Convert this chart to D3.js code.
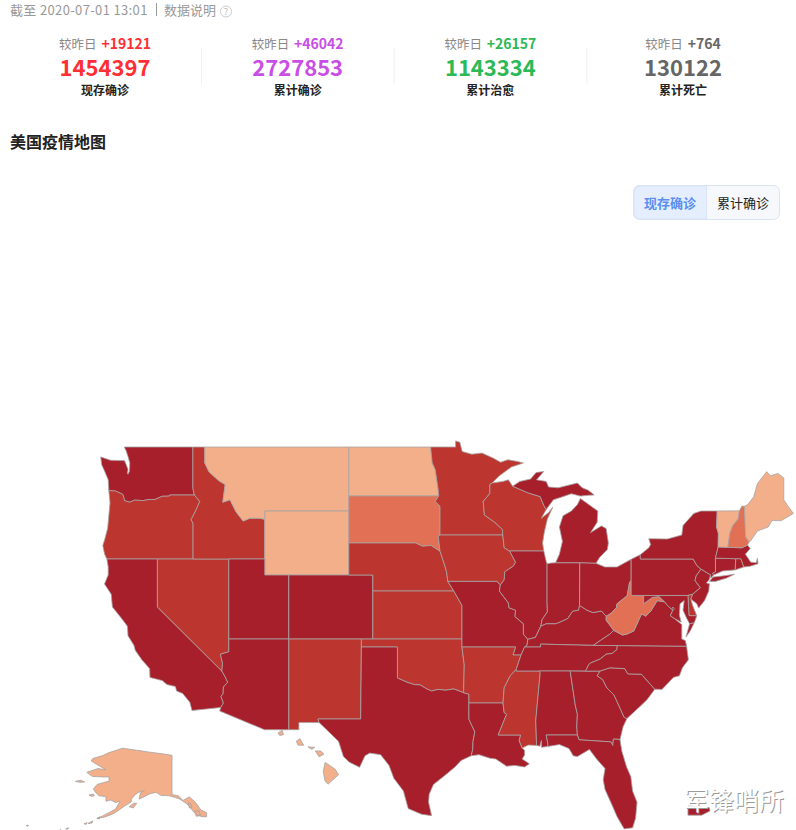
<!DOCTYPE html>
<html>
<head>
<meta charset="utf-8">
<style>
  html, body { margin: 0; padding: 0; background: #fff; }
  svg { display: block; }
  text { font-family: "Noto Sans CJK SC", "Noto Sans", sans-serif; }
</style>
<script src="https://cdn.jsdelivr.net/npm/d3@7"></script>
</head>
<body>
<svg id="chart" width="796" height="830"></svg>
<script>
// header numbers
var statLabels = ['现存确诊', '累计确诊', '累计治愈', '累计死亡'];
var statDeltas = ['+19121', '+46042', '+26157', '+764'];
var statTotals = ['1454397', '2727853', '1143334', '130122'];
var statColors = ['#ff2f33', '#c94ee6', '#2cb956', '#666666'];
var toggleLabels = ['现存确诊', '累计确诊'];

// colour level of each state
var levelColors = ['#f2af89', '#e27054', '#bc352e', '#a81f2c'];
var stateLevels = {
  WA:3, OR:2, CA:3, NV:2, ID:2, MT:0, WY:0, UT:3, AZ:3, CO:3, NM:2, ND:0, SD:1, NE:2, KS:2, OK:2, TX:3,
  MN:2, IA:2, MO:3, AR:2, LA:3, WI:2, IL:3, MS:2, MI:3, IN:3, KY:3, TN:3, AL:3, OH:3, GA:3, FL:3,
  SC:3, NC:3, VA:3, WV:1, PA:3, NY:3, NJ:3, DE:2, MD:3, DC:3, CT:3, RI:3, MA:3, VT:0, NH:1, ME:0,
  AK:0, HI:0, PR:3
};

// shared borders, lon/lat
var columbia = [[-124.05,46.27],[-123.5,46.25],[-123.2,46.15],[-122.9,46.05],[-122.8,45.85],[-122.75,45.65],[-122.3,45.55],[-121.9,45.68],[-121.2,45.65],[-120.7,45.72],[-120.2,45.72],[-119.6,45.92],[-119,45.93],[-118.98,46],[-116.92,46]];
var snake = [[-116.92,46],[-116.47,45.6],[-116.7,45.2],[-116.85,44.95],[-117.2,44.45],[-117.03,44.25],[-117.03,43.8],[-117.03,42]];
var caCoast = [[-124.21,42],[-124.1,41.5],[-124.1,41],[-124.41,40.44],[-123.85,39.8],[-123.75,39],[-123,38.3],[-122.5,37.8],[-122.45,37.2],[-121.95,36.6],[-121.85,36.3],[-121.3,35.7],[-120.65,35.15],[-120.62,34.6],[-119.6,34.4],[-119.2,34.15],[-118.5,34.03],[-118.4,33.75],[-117.9,33.6],[-117.3,33.05],[-117.12,32.53]];
var coloRiver = [[-114.72,32.72],[-114.5,33],[-114.7,33.4],[-114.52,33.6],[-114.5,34],[-114.14,34.3],[-114.4,34.7],[-114.63,35]];
var azNv = [[-114.63,35],[-114.57,35.5],[-114.75,36.05],[-114.05,36.2],[-114.05,37]];
var idMt = [[-116.05,49],[-116.05,48],[-115.7,47.45],[-114.9,46.9],[-114.35,46.65],[-114.55,45.55],[-113.95,45.7],[-113.45,44.95],[-112.85,44.37],[-112.3,44.55],[-111.5,44.55],[-111.05,44.48]];
var redRiver = [[-100,34.56],[-99.2,34.3],[-98.6,34.15],[-98.1,34.13],[-97.6,33.9],[-97.15,33.75],[-96.6,33.85],[-96,33.8],[-95.3,33.88],[-94.48,33.64]];
var sabine = [[-94.04,33],[-94.04,31.99],[-93.8,31.6],[-93.55,31.2],[-93.7,30.6],[-93.72,30.1],[-93.85,29.7]];
var riverNeIa = [[-98.5,43],[-97.9,42.8],[-97.2,42.85],[-96.45,42.49]];
var riverIaNe = [[-96.45,42.49],[-96.1,41.7],[-95.9,41.2],[-95.8,40.6]];
var riverKsMo = [[-95.8,40.6],[-95.3,40],[-94.62,39.1]];
var sdMn = [[-96.56,45.94],[-96.85,45.6],[-96.45,45.3],[-96.45,43.5]];
var ndMn = [[-97.23,49],[-97.1,48],[-96.85,47.6],[-96.6,46.35],[-96.56,45.94]];
var mnWi = [[-92.1,46.75],[-92.29,46.66],[-92.29,46.1],[-92.85,45.6],[-92.75,44.75],[-91.9,44.3],[-91.25,43.85],[-91.22,43.5]];
var missUpper = [[-91.22,43.5],[-91.1,42.7],[-90.65,42.5],[-90.15,41.8],[-90.35,41.55],[-91.05,41.2],[-91.1,40.7],[-91.42,40.38]];
var missIlMo = [[-91.42,40.38],[-91.5,40],[-90.75,39.25],[-90.7,38.95],[-90.15,38.8],[-90.2,38.4],[-89.5,37.95],[-89.5,37.3],[-89.13,36.98]];
var missKyMo = [[-89.13,36.98],[-89.2,36.6],[-89.4,36.5]];
var missTnAr = [[-89.4,36.5],[-89.7,36],[-90.1,35.1]];
var missArMs = [[-90.1,35.1],[-90.6,34.7],[-91.1,33.95],[-91.2,33]];
var missLaMs = [[-91.2,33],[-91.1,32.4],[-90.9,32.3],[-91.6,31],[-89.73,31],[-89.85,30.65],[-89.6,30.18]];
var ohioKy = [[-89.13,36.98],[-88.5,37.1],[-88.05,37.8]];
var ohioIn = [[-88.05,37.8],[-87.6,37.95],[-86.8,37.95],[-86.3,38.1],[-85.8,38.28],[-85.4,38.73],[-84.9,38.8],[-84.82,39.1]];
var ohioOh = [[-84.82,39.1],[-84.2,38.8],[-83.7,38.65],[-83,38.75],[-82.6,38.42]];
var ohioWv = [[-82.6,38.42],[-82.2,38.6],[-81.75,38.95],[-81.7,39.2],[-80.85,39.7],[-80.65,40.55],[-80.52,40.64]];
var wabash = [[-88.05,37.8],[-87.95,38.2],[-87.5,38.7],[-87.53,39.35],[-87.53,41.7]];
var kyVa = [[-81.97,37.54],[-82.3,37.3],[-83.1,36.9],[-83.68,36.6]];
var kyWv = [[-82.6,38.42],[-82.6,38.17],[-81.97,37.54]];
var vaWv = [[-81.97,37.54],[-81.25,37.25],[-80.9,37.3],[-80.3,37.5],[-79.65,38.58],[-79.3,38.42],[-78.87,38.77],[-78.35,39.4],[-77.72,39.32]];
var potomacUp = [[-77.72,39.32],[-78.2,39.65],[-78.75,39.6],[-79.48,39.2],[-79.48,39.72]];
var potomacLow = [[-77.25,38.45],[-77.05,38.8],[-77.5,39.1],[-77.72,39.32]];
var tnNc = [[-81.68,36.59],[-81.7,36.35],[-82.1,36.1],[-82.6,36.05],[-83.1,35.75],[-83.9,35.5],[-84.05,35.4],[-84.32,34.99]];
var savannah = [[-83.11,35],[-83.35,34.7],[-82.9,34.47],[-82.55,33.95],[-81.95,33.5],[-81.4,32.6],[-81.1,32.1],[-80.87,32.03]];
var ncSc = [[-83.11,35],[-82.3,35.2],[-81.05,35.15],[-80.8,34.82],[-79.67,34.8],[-78.55,33.86]];
var gaFl = [[-81.45,30.72],[-82,30.75],[-82.05,30.35],[-82.2,30.57],[-84.86,30.7],[-85,31]];
var alGa = [[-85.6,35],[-85.18,32.87],[-85,32.3],[-85.05,31.55],[-85,31]];
var paNj = [[-74.7,41.36],[-75.1,40.95],[-75.2,40.65],[-74.75,40.2],[-75.4,39.8]];
var nyPa = [[-75.35,42],[-75.05,41.6],[-74.7,41.36]];
var vtNh = [[-71.5,45.01],[-71.6,44.5],[-72.05,44.1],[-72.3,43.6],[-72.46,42.73]];
var nyVt = [[-73.35,45],[-73.4,44],[-73.25,43.6],[-73.27,42.75]];
var nhMe = [[-71.08,45.3],[-70.98,43.4],[-70.7,43.07]];
var wiMiUp = [[-90.4,46.55],[-89.1,46.13],[-88.1,45.9],[-87.8,45.35],[-87.6,45.1]];

function rev(a) { return a.slice().reverse(); }
function ring() { return [].concat.apply([], arguments); }

// one list of rings for each state
var WA = [ring([[-117.04,49],[-122.76,49],[-122.6,48.75],[-122.45,48.4],[-122.3,48],[-122.33,47.5],[-122.45,47.3],[-122.5,47.35],[-122.45,47.6],[-122.6,47.9],[-122.75,48.15],[-123.15,48.15],[-123.9,48.17],[-124.72,48.38],[-124.65,47.9],[-124.35,47.4],[-124.1,46.95]], columbia, [[-117.04,46.42]])];
var OR = [ring(columbia, snake.slice(1), [[-124.21,42],[-124.4,42.3],[-124.55,42.84],[-124.4,43.2],[-124.15,43.9],[-124.05,44.7],[-123.95,45.5]])];
var CA = [ring(caCoast, coloRiver, [[-120,39],[-120,42]])];
var NV = [ring([[-120,42],[-114.05,42]], rev(azNv), [[-120,39]])];
var ID = [ring([[-117.04,49]], idMt, [[-111.05,42],[-117.03,42]], rev(snake), [[-117.04,46.42]])];
var MT = [ring(idMt, [[-111.05,45],[-104.05,45],[-104.05,49]])];
var WY = [[[-111.05,45],[-104.05,45],[-104.05,41],[-111.05,41]]];
var UT = [[[-114.05,42],[-111.05,42],[-111.05,41],[-109.05,41],[-109.05,37],[-114.05,37]]];
var AZ = [ring([[-114.05,37],[-109.05,37],[-109.05,31.33],[-111.07,31.33],[-114.81,32.5]], coloRiver, azNv)];
var CO = [[[-109.05,41],[-102.05,41],[-102.05,37],[-109.05,37]]];
var NM = [[[-109.05,37],[-103,37],[-103.06,32],[-106.62,32],[-106.53,31.78],[-108.21,31.78],[-108.21,31.33],[-109.05,31.33]]];
var ND = [ring([[-104.05,49]], ndMn, [[-104.05,45.94]])];
var SD = [ring([[-104.05,45.94]], sdMn, [[-96.6,43.45],[-96.45,42.49]], rev(riverNeIa), [[-104.05,43]])];
var NE = [ring([[-104.05,43]], riverNeIa, riverIaNe, [[-95.3,40],[-102.05,40],[-102.05,41],[-104.05,41]])];
var KS = [[[-102.05,40],[-95.3,40],[-94.62,39.1],[-94.62,37],[-102.05,37]]];
var OK = [ring([[-103,37],[-94.62,37],[-94.62,36.5],[-94.43,35.4]], rev(redRiver), [[-100,36.5],[-103,36.5]])];
var TX = [ring([[-103,36.5],[-100,36.5]], redRiver, [[-94.04,33.55]], sabine, [[-94.7,29.4],[-95.2,29],[-96,28.5],[-97,27.9],[-97.35,27.3],[-97.4,26.8],[-97.15,25.96],[-98,26.05],[-99.1,26.4],[-99.5,27.5],[-100.3,28.3],[-100.7,29.1],[-101.4,29.77],[-102.3,29.87],[-102.7,29.7],[-103.15,28.98],[-104,29.3],[-104.5,29.65],[-104.9,30.6],[-106,31.4],[-106.53,31.78],[-106.62,32],[-103.06,32]])];
var MN = [ring([[-97.23,49],[-95.15,49],[-95.15,49.38],[-94.8,49.3],[-94.6,48.72],[-93.8,48.55],[-92.95,48.62],[-92,48.3],[-91.4,48.05],[-90.8,48.2],[-90,48.1],[-89.5,48],[-90.5,47.75],[-91.5,47.2]], mnWi, [[-96.45,43.5]], rev(sdMn), rev(ndMn))];
var IA = [ring([[-96.45,43.5]], missUpper, [[-91.72,40.6]], rev(riverIaNe), [[-96.6,43.45]])];
var MO = [ring([[-95.8,40.6],[-91.72,40.6]], missIlMo, missKyMo, [[-89.7,36],[-90.37,36],[-90.15,36.5],[-94.62,36.5],[-94.62,39.1]], rev(riverKsMo).slice(1))];
var AR = [ring([[-94.62,36.5],[-90.15,36.5],[-90.37,36],[-89.7,36]], missTnAr.slice(2), missArMs.slice(1), [[-94.04,33],[-94.04,33.55],[-94.48,33.64],[-94.43,35.4]])];
var LA = [ring(sabine, [[-93.2,29.77],[-92.3,29.55],[-91.8,29.5],[-90.9,29.05],[-90.2,29.1],[-89.4,29],[-89,29.2],[-89.6,29.5],[-89.4,29.75],[-89.4,30.05]], rev(missLaMs))];
var WI = [ring([[-92.1,46.75],[-91.2,46.85],[-90.75,46.95]], wiMiUp, [[-88,44.55],[-87.4,44.9],[-87.05,45.25],[-87.5,44.5],[-87.75,43.7],[-87.9,43],[-87.8,42.5],[-90.65,42.5],[-91.1,42.7],[-91.22,43.5]], rev(mnWi).slice(1))];
var IL = [ring([[-90.65,42.5],[-87.8,42.5],[-87.6,41.85]], rev(wabash), rev(ohioKy).slice(1), rev(missIlMo).slice(1), [[-91.1,40.7],[-91.05,41.2],[-90.35,41.55],[-90.15,41.8]])];
var MS = [ring([[-90.1,35],[-88.2,35],[-88.1,34.9],[-88.47,31.9],[-88.4,30.35],[-89.1,30.37]], rev(missLaMs), rev(missArMs).slice(1))];
var MI = [
  [[-86.82,41.76],[-84.8,41.76],[-83.45,41.73],[-83.15,42.1],[-82.5,42.6],[-82.42,43],[-82.6,43.9],[-83,44.07],[-83.9,43.65],[-83.35,44.3],[-83.3,45],[-84.75,45.78],[-85,45.4],[-85.5,45],[-86.2,44.7],[-86.5,44],[-86.25,43.1],[-86.5,42.3]],
  ring(rev(wiMiUp), [[-89.8,46.85],[-88.9,47],[-88.45,47.4],[-87.8,47.47],[-88.4,46.95],[-87.6,46.85],[-87.4,46.5],[-86.6,46.45],[-85,46.75],[-84.6,46.45],[-84.1,46.3],[-83.6,46],[-84.1,45.98],[-84.75,45.93],[-85.5,46.08],[-86.4,45.85],[-87,45.7]])
];
var IN = [ring([[-87.53,41.7],[-87.2,41.75],[-86.82,41.76],[-84.8,41.76]], rev(ohioIn), wabash.slice(1))];
var KY = [ring([[-89.4,36.5],[-88.07,36.5],[-88.07,36.68],[-83.68,36.6]], rev(kyVa), rev(kyWv), rev(ohioOh), rev(ohioIn).slice(1), rev(ohioKy).slice(1), missKyMo.slice(1))];
var TN = [ring([[-90.1,35],[-88.2,35],[-85.6,35],[-84.32,34.99]], rev(tnNc), [[-83.68,36.6],[-88.07,36.68],[-88.07,36.5],[-89.4,36.5]], missTnAr.slice(1))];
var AL = [ring([[-88.2,35]], alGa, [[-87.6,31],[-87.45,30.4],[-87.5,30.28],[-88,30.23],[-88,30.65],[-88.13,30.3],[-88.4,30.35],[-88.47,31.9],[-88.1,34.9]])];
var OH = [ring([[-84.82,39.1],[-84.8,41.76],[-83.45,41.73],[-82.7,41.5],[-81.7,41.5],[-80.52,41.98],[-80.52,40.64]], rev(ohioWv), rev(ohioOh))];
var GA = [ring(alGa.slice(0,1), [[-84.32,34.99]], savannah, [[-81.2,31.5]], gaFl, rev(alGa).slice(1))];
var FL = [ring([[-87.6,31]], rev(gaFl), [[-81.3,30],[-80.9,29],[-80.55,28.4],[-80.4,27.5],[-80.03,26.8],[-80.15,25.8],[-80.4,25.2],[-81.1,25.13],[-81.7,25.9],[-82.1,26.6],[-82.7,27.6],[-82.85,28.2],[-82.7,28.9],[-83.4,29.5],[-84,30.1],[-85,29.65],[-85.35,29.7],[-85.7,30.15],[-86.5,30.4],[-87.5,30.28],[-87.45,30.4]])];
var SC = [ring(ncSc, [[-79.2,33.2],[-79.9,32.7]], rev(savannah))];
var NC = [ring([[-84.32,34.99]], ncSc, [[-77.95,33.85],[-77,34.6],[-76.5,34.7],[-76.25,35.2],[-75.75,35.7],[-75.9,36.55]], tnNc)];
var VA = [
  ring([[-83.68,36.6],[-81.68,36.59],[-75.9,36.55],[-76,36.9],[-76.3,37],[-76.3,37.6],[-76.3,37.9],[-76.95,38.3]], potomacLow, rev(vaWv), kyVa.slice(1)),
  [[-75.95,37.12],[-75.65,37.95],[-75.25,38.03],[-75.6,37.5]]
];
var WV = [ring(kyWv, vaWv, potomacUp, [[-80.52,39.72]], rev(ohioWv))];
var PA = [[[-80.52,41.98],[-79.76,42.27],[-79.76,42],[-75.35,42],[-75.05,41.6],[-74.7,41.36],[-75.1,40.95],[-75.2,40.65],[-74.75,40.2],[-75.4,39.8],[-75.79,39.72],[-80.52,39.72]]];
var NY = [
  ring([[-79.76,42.27],[-79.05,42.7],[-78.9,42.9],[-79.05,43.27],[-77.5,43.25],[-76.3,43.5],[-76.2,44.1],[-75.3,44.85],[-74.7,45]], nyVt, [[-73.5,42.05],[-73.49,41.2],[-73.73,41.1],[-73.65,41],[-73.9,40.8],[-73.9,41]], rev(nyPa), [[-79.76,42]]),
  [[-74,40.6],[-73.5,40.6],[-72.6,40.8],[-71.9,41.05],[-72.6,40.97],[-73.7,40.87]]
];
var NJ = [ring([[-73.9,41]], paNj, [[-75.55,39.5],[-75.05,39.2],[-74.9,38.93],[-74.4,39.4],[-74.05,40],[-74,40.45],[-74.25,40.5],[-74.02,40.7]])];
var DE = [[[-75.79,39.72],[-75.4,39.8],[-75.55,39.5],[-75.4,39.1],[-75.05,38.45],[-75.7,38.46]]];
var MD = [ring([[-79.48,39.72],[-75.79,39.72],[-75.7,38.46],[-75.05,38.45],[-75.25,38.03],[-75.65,37.95],[-75.9,38.3],[-76.2,38.8],[-76.1,39.4],[-76.45,39.2],[-76.5,38.5],[-76.35,38.05],[-76.95,38.3]], potomacLow, potomacUp.slice(1))];
var DC = [[[-77.12,38.93],[-77.04,39],[-76.91,38.89],[-77.04,38.79]]];
var CT = [[[-73.49,42.05],[-71.8,42.02],[-71.85,41.32],[-72.9,41.25],[-73.65,41],[-73.73,41.1],[-73.49,41.2]]];
var RI = [[[-71.8,42.02],[-71.38,42.02],[-71.13,41.5],[-71.85,41.32]]];
var MA = [[[-73.5,42.05],[-73.27,42.75],[-72.46,42.73],[-71.3,42.7],[-70.82,42.87],[-70.6,42.65],[-71,42.3],[-70.55,41.8],[-70.1,41.77],[-70,42.05],[-69.95,41.7],[-70.6,41.55],[-71.13,41.5],[-71.38,42.02],[-71.8,42.02]]];
var VT = [ring(nyVt, rev(vtNh))];
var NH = [ring(vtNh, [[-71.3,42.7],[-70.82,42.87]], rev(nhMe), [[-71.3,45.3]])];
var ME = [ring(nhMe, [[-70.6,43.1],[-70,43.75],[-69.1,44],[-68.8,44.4],[-68,44.4],[-67,44.85],[-67.45,45.3],[-67.8,45.7],[-67.8,47.07],[-68.3,47.35],[-68.9,47.2],[-69.23,47.46],[-70,46.7],[-70.3,45.9],[-70.8,45.4]])];

// the three areas moved to the side of the map
var AK = [
  [[-141,69.65],[-141,60.3],[-139,60],[-137.5,58.9],[-135.5,59.75],[-133.5,58.4],[-131.8,56.6],[-130,56],[-130,55],[-131.5,55],[-133.2,55.5],[-134.5,56.5],[-135.5,57.5],[-136.5,58.2],[-138.5,59.2],[-139.8,59.55],[-142,60],[-144.5,60.1],[-146,60.8],[-148,60.5],[-149.5,59.9],[-151.5,59.2],[-151,60.7],[-149.8,61.2],[-151.7,60.8],[-152.8,60.2],[-153.9,59.2],[-154,58.5],[-156,57.6],[-158,56.5],[-160,55.6],[-162.5,54.9],[-164.8,54.6],[-163,55.2],[-161,56],[-159,56.8],[-157.5,58.7],[-158.9,58.4],[-160.5,59],[-162,58.7],[-162,59.8],[-164.2,60],[-165.3,60.8],[-166,61.6],[-164.8,62.7],[-163,63.1],[-161,63.5],[-161,64.5],[-163,64.5],[-166.3,64.6],[-168.1,65.6],[-164.5,66.5],[-162,66.2],[-163.8,67],[-166.7,68.3],[-166.2,68.9],[-163,69.6],[-161,70.3],[-156.7,71.35],[-152,70.85],[-148,70.4],[-144,70]],
  [[-171.7,63.45],[-170,63.7],[-168.8,63.3],[-170.3,63.2]],
  [[-167.4,60.2],[-166,60.4],[-165.7,60],[-166.6,59.85]],
  [[-154.6,57.4],[-153.2,58.2],[-152.2,58.2],[-153.3,57.1]],
  [[-135.8,58.3],[-134.9,58],[-134.7,57.2],[-135.5,57.1]],
  [[-133.8,56.3],[-132.5,56.5],[-131.9,55.3],[-133.3,55.1]],
  [[-167.7,53.4],[-166.2,54],[-166.4,53.5]],
  [[-169,53.3],[-168,53.6],[-168.2,53.2]],
  [[-164.9,54.6],[-163.9,55],[-164.1,54.5]],
  [[-174.8,52.1],[-174,52.4],[-174,52.05]],
  [[-177,51.7],[-176.3,51.95],[-176.4,51.65]],
  [[-187.4,52.9],[-186.6,53],[-186.8,52.75]]
];
var HI = [
  [[-155.9,20.25],[-155.1,19.85],[-154.8,19.5],[-155.65,18.92],[-155.9,19.1],[-156.05,19.7]],
  [[-156.7,20.95],[-156.25,20.95],[-156,20.75],[-156.4,20.6]],
  [[-157.3,21.2],[-156.75,21.17],[-157,21.05]],
  [[-158.25,21.55],[-157.95,21.7],[-157.65,21.3],[-158.1,21.3]],
  [[-159.75,22.05],[-159.4,22.22],[-159.3,21.95],[-159.6,21.9]]
];
var PR = [[[-67.2,18.5],[-65.65,18.4],[-65.6,18.2],[-66.2,17.95],[-67.2,17.95]]];

var mainRings = {WA:WA, OR:OR, CA:CA, NV:NV, ID:ID, MT:MT, WY:WY, UT:UT, AZ:AZ, CO:CO, NM:NM, ND:ND, SD:SD, NE:NE, KS:KS, OK:OK, TX:TX, MN:MN, IA:IA, MO:MO, AR:AR, LA:LA, WI:WI, IL:IL, MS:MS, MI:MI, IN:IN, KY:KY, TN:TN, AL:AL, OH:OH, GA:GA, FL:FL, SC:SC, NC:NC, VA:VA, WV:WV, PA:PA, NY:NY, NJ:NJ, DE:DE, MD:MD, DC:DC, CT:CT, RI:RI, MA:MA, VT:VT, NH:NH, ME:ME};

var svg = d3.select('#chart');

// top line
svg.append('text').attr('x', 10).attr('y', 15).style('font-size', '13px').style('letter-spacing', '0.35px').style('fill', '#999').text('截至 2020-07-01 13:01');
svg.append('rect').attr('x', 156).attr('y', 3).attr('width', 1).attr('height', 13).attr('fill', '#999');
svg.append('text').attr('x', 164).attr('y', 15).style('font-size', '13px').style('fill', '#999').text('数据说明');
svg.append('circle').attr('cx', 226).attr('cy', 11.5).attr('r', 5.5).attr('fill', 'none').attr('stroke', '#ccc');
svg.append('text').attr('x', 226).attr('y', 15).attr('text-anchor', 'middle').style('font-size', '9px').style('fill', '#bbb').text('?');

// stat blocks
var statX = d3.scalePoint().domain(statLabels).range([105, 683]);
var stat = svg.selectAll('.stat').data(statLabels).enter().append('g').attr('class', 'stat')
  .attr('transform', function(d) { return 'translate(' + statX(d) + ',0)'; });
var delta = stat.append('text').attr('y', 49).attr('text-anchor', 'middle');
delta.append('tspan').style('font-size', '12.5px').style('fill', '#888').text('较昨日 ');
delta.append('tspan').attr('dx', 2).style('font-size', '14px').style('font-weight', 600)
  .style('fill', function(d, i) { return statColors[i]; })
  .text(function(d, i) { return statDeltas[i]; });
stat.append('text').attr('y', 76).attr('text-anchor', 'middle').style('font-size', '22px').style('font-weight', 700)
  .style('fill', function(d, i) { return statColors[i]; })
  .text(function(d, i) { return statTotals[i]; });
stat.append('text').attr('y', 95).attr('text-anchor', 'middle').style('font-size', '12px').style('font-weight', 700).style('fill', '#222')
  .text(function(d) { return d; });
svg.selectAll('.divider').data(statLabels.slice(0, 3)).enter().append('rect').attr('class', 'divider')
  .attr('x', function(d) { return statX(d) + 96; }).attr('y', 48).attr('width', 1).attr('height', 36).attr('fill', '#f0f0f0');

svg.append('text').attr('x', 10).attr('y', 148).style('font-size', '16px').style('font-weight', 700).style('fill', '#222').text('美国疫情地图');

// toggle
svg.append('rect').attr('x', 633.5).attr('y', 185.5).attr('width', 146).attr('height', 34).attr('rx', 6).attr('fill', '#f6f8fb').attr('stroke', '#d8e3f5');
svg.append('path').attr('d', 'M706.5,186H640a6,6 0 0 0 -6,6V213a6,6 0 0 0 6,6H706.5Z').attr('fill', '#e4eeff').attr('stroke', '#d8e3f5');
svg.selectAll('.toggle').data(toggleLabels).enter().append('text').attr('class', 'toggle')
  .attr('x', function(d, i) { return i ? 743 : 670; }).attr('y', 208).attr('text-anchor', 'middle')
  .style('font-size', '13px').style('font-weight', function(d, i) { return i ? 400 : 600; })
  .style('fill', function(d, i) { return i ? '#222' : '#5b8ff0'; }).text(function(d) { return d; });

// map: plain lon/lat stretched on x and y, as the picture has straight parallels
function planar(x, y) {
  return d3.geoPath(d3.geoTransform({ point: function(lon, lat) { this.stream.point(x(lon), y(lat)); } }));
}
var mainPath = planar(d3.scaleLinear().domain([-124.7, -67]).range([101, 793.4]), d3.scaleLinear().domain([49, 25]).range([447, 831]));
var akPath = planar(d3.scaleLinear().domain([-141, -130]).range([172, 206.6]), d3.scaleLinear().domain([71.4, 54.7]).range([748, 818]));
var hiPath = planar(d3.scaleLinear().domain([-159.5, -155.5]).range([281, 330]), d3.scaleLinear().domain([22.05, 19.6]).range([733, 773]));
var prPath = planar(d3.scaleLinear().domain([-67.27, -65.6]).range([687, 710]), d3.scaleLinear().domain([18.5, 17.9]).range([806, 816]));

function feature(code, rings) {
  return { type: 'Feature', id: code, geometry: { type: 'MultiPolygon', coordinates: rings.map(function(r) { return [r.concat([r[0]])]; }) } };
}
var color = d3.scaleOrdinal().domain([0, 1, 2, 3]).range(levelColors);
var map = svg.append('g').attr('class', 'map');

function drawStates(features, path) {
  map.append('g').selectAll('path').data(features).enter().append('path')
    .attr('d', path)
    .attr('fill', function(d) { return color(stateLevels[d.id]); })
    .attr('stroke', '#a8a3a3').attr('stroke-width', 0.8).attr('stroke-linejoin', 'round');
}
drawStates(Object.keys(mainRings).map(function(k) { return feature(k, mainRings[k]); }), mainPath);
drawStates([feature('AK', AK)], akPath);
drawStates([feature('HI', HI)], hiPath);
drawStates([feature('PR', PR)], prPath);

// watermark
svg.append('text').attr('x', 685).attr('y', 811).style('font-size', '25px').style('fill', '#9a9a9a').text('军锋哨所');
svg.append('text').attr('x', 684).attr('y', 810).style('font-size', '25px').style('fill', '#fff').text('军锋哨所');
</script>
</body>
</html>
